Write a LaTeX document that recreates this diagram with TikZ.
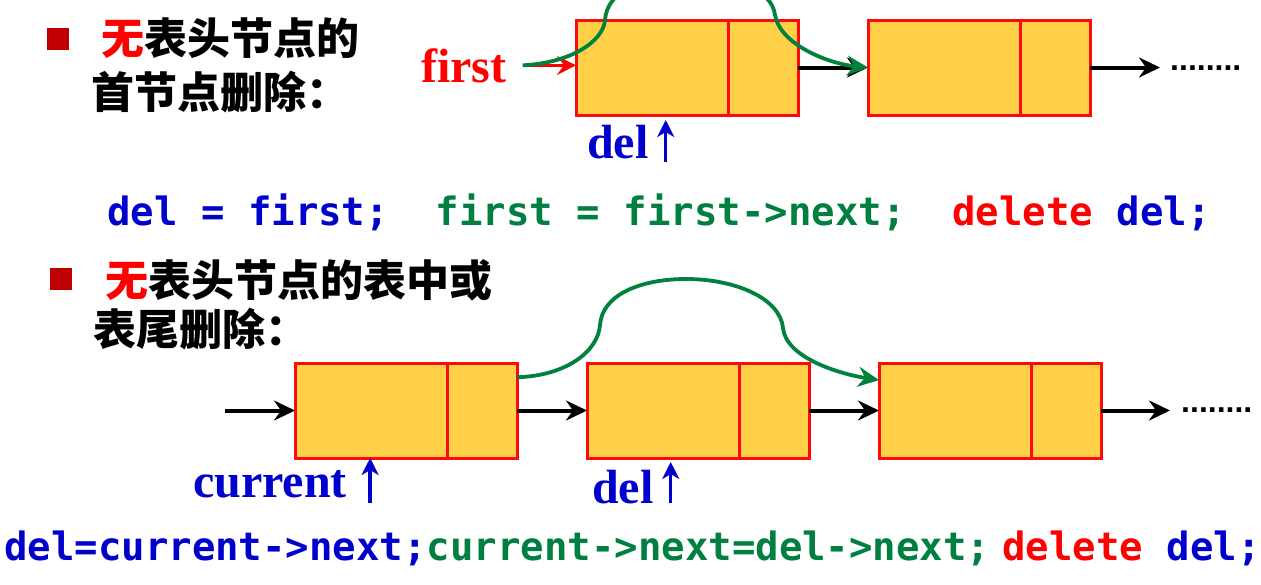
\documentclass[tikz,border=0pt]{standalone}
\usepackage{fontspec}
\usetikzlibrary{positioning,arrows.meta,calc}
\newfontfamily\cjk{Noto Sans CJK SC}[BoldFont={Noto Sans CJK SC Black}]
\newfontfamily\labelfont{Liberation Serif}
\newfontfamily\codefont{DejaVu Sans Mono}
\newfontfamily\dotfont{Liberation Sans}
\definecolor{boxfill}{RGB}{255,208,72}
\definecolor{boxline}{RGB}{255,10,10}
\definecolor{linkgreen}{RGB}{0,130,60}
\definecolor{codegreen}{RGB}{0,128,64}
\definecolor{codeblue}{RGB}{0,0,204}
\definecolor{bulletred}{RGB}{192,0,0}
\newcommand{\widthdata}{152pt}
\newcommand{\widthptr}{70pt}
\newcommand{\widthgap}{70pt}
\newcommand{\heightnode}{95pt}
\tikzset{
    common/.style={anchor=west, draw=boxline, fill=boxfill, line width=3pt, rectangle, inner sep=0pt, outer sep=0pt, minimum height=\heightnode},
    datafield/.style={common, minimum width=\widthdata},
    ptrfield/.style={common, minimum width=\widthptr},
    link/.style={-{Stealth[length=21pt, width=20pt, inset=7pt]}, line width=4pt},
    relink/.style={link, draw=linkgreen, line width=3.8pt},
    headlink/.style={-{Stealth[length=19pt, width=19pt, inset=7pt]}, line width=3.5pt, draw=red},
    upptr/.style={-{Stealth[length=17pt, width=17pt, inset=5pt]}, line width=3.5pt, draw=codeblue},
    bullet/.style={anchor=north west, fill=bulletred, inner sep=0pt, minimum size=22pt},
    heading/.style={anchor=base west, inner sep=0pt, font=\fontsize{43pt}{43pt}\selectfont\cjk\bfseries},
    ptrname/.style={anchor=base west, inner sep=0pt, font=\fontsize{48pt}{48pt}\selectfont\labelfont\bfseries},
    code/.style={anchor=base west, inner sep=0pt, font=\fontsize{39pt}{39pt}\selectfont\codefont\bfseries},
    etc/.style={anchor=base west, inner sep=0pt, font=\fontsize{32pt}{32pt}\selectfont\dotfont\bfseries}
}
\begin{document}
\begin{tikzpicture}[x=1pt, y=-1pt]
    \useasboundingbox (0,0) rectangle (1261,584);

    % first node removed
    \node[bullet] (mark1) at (47,28) {};
    \node[heading] (title1) at (101,54) {\textcolor{red}{无}表头节点的};
    \node[heading] (title2) at (91,108) {首节点删除：};

    \node[datafield] (a1) at (576,67.5) {};
    \node[ptrfield, right=0pt of a1] (a2) {};
    \node[datafield, right=\widthgap of a2] (b1) {};
    \node[ptrfield, right=0pt of b1] (b2) {};
    \coordinate (tail1) at (1160,67.5);
    \node[etc] (more1) at (1170,70) {........};

    \node[ptrname, text=red] (first) at (421,82) {first};
    \node[ptrname, text=codeblue] (del1) at (587,158) {del};
    \coordinate (firstptr) at ($(first.east)+(16,0)$);
    \coordinate (del1ptr) at ($(del1.base east)+(17,4)$);

    \draw[headlink] (firstptr) -- (firstptr -| a1.west);
    \draw[link] (a2.east) -- (b1.west);
    \draw[link] (b2.east) -- (tail1);
    \draw[upptr, shorten >=5pt] (del1ptr) -- (del1ptr |- a1.south);
    \draw[relink] (firstptr) .. controls (570,63) and (603,42) .. (605,20)
        .. controls (607,-10) and (645,-25) .. (690,-25)
        .. controls (735,-25) and (772,-10) .. (775,15)
        .. controls (780,45) and (830,64) .. (b1.west);

    \node[code] (stmt1) at (107,225) {\textcolor{codeblue}{del = first;}~~\textcolor{codegreen}{first = first->next;}~~\textcolor{red}{delete} \textcolor{codeblue}{del;}};

    % middle or last node removed
    \node[bullet] (mark2) at (50,268) {};
    \node[heading] (title3) at (105,296) {\textcolor{red}{无}表头节点的表中或};
    \node[heading] (title4) at (93,345) {表尾删除：};

    \node[datafield] (c1) at (295,410.5) {};
    \node[ptrfield, right=0pt of c1] (c2) {};
    \node[datafield, right=\widthgap of c2] (d1) {};
    \node[ptrfield, right=0pt of d1] (d2) {};
    \node[datafield, right=\widthgap of d2] (e1) {};
    \node[ptrfield, right=0pt of e1] (e2) {};
    \coordinate (head2) at (225,410.5);
    \coordinate (tail2) at (1170,410.5);
    \node[etc] (more2) at (1181,412) {........};

    \node[ptrname, text=codeblue] (current) at (193,497) {current};
    \node[ptrname, text=codeblue] (del2) at (592,503) {del};
    \coordinate (currentptr) at ($(current.base east)+(23,6)$);
    \coordinate (del2ptr) at ($(del2.base east)+(17,0)$);

    \draw[link] (head2) -- (c1.west);
    \draw[link] (c2.east) -- (d1.west);
    \draw[link] (d2.east) -- (e1.west);
    \draw[link] (e2.east) -- (tail2);
    \draw[upptr] (currentptr) -- (currentptr |- c1.south);
    \draw[upptr, shorten >=4pt] (del2ptr) -- (del2ptr |- d1.south);
    \coordinate (skipfrom) at ($(c2.north east)!0.15!(c2.south east)$);
    \coordinate (skipto) at ($(e1.north west)!0.18!(e1.south west)$);
    \draw[relink] (skipfrom) .. controls (565,376) and (598,352) .. (600,325)
        .. controls (602,295) and (640,279) .. (686,279)
        .. controls (735,279) and (780,298) .. (783,328)
        .. controls (786,358) and (840,374) .. (skipto);

    \node[code] (stmt2) at (4,560) {\textcolor{codeblue}{del=current->next;}\textcolor{codegreen}{current->next=del->next;}\hspace{12pt}\textcolor{red}{delete} \textcolor{codeblue}{del;}};
\end{tikzpicture}
\end{document}
